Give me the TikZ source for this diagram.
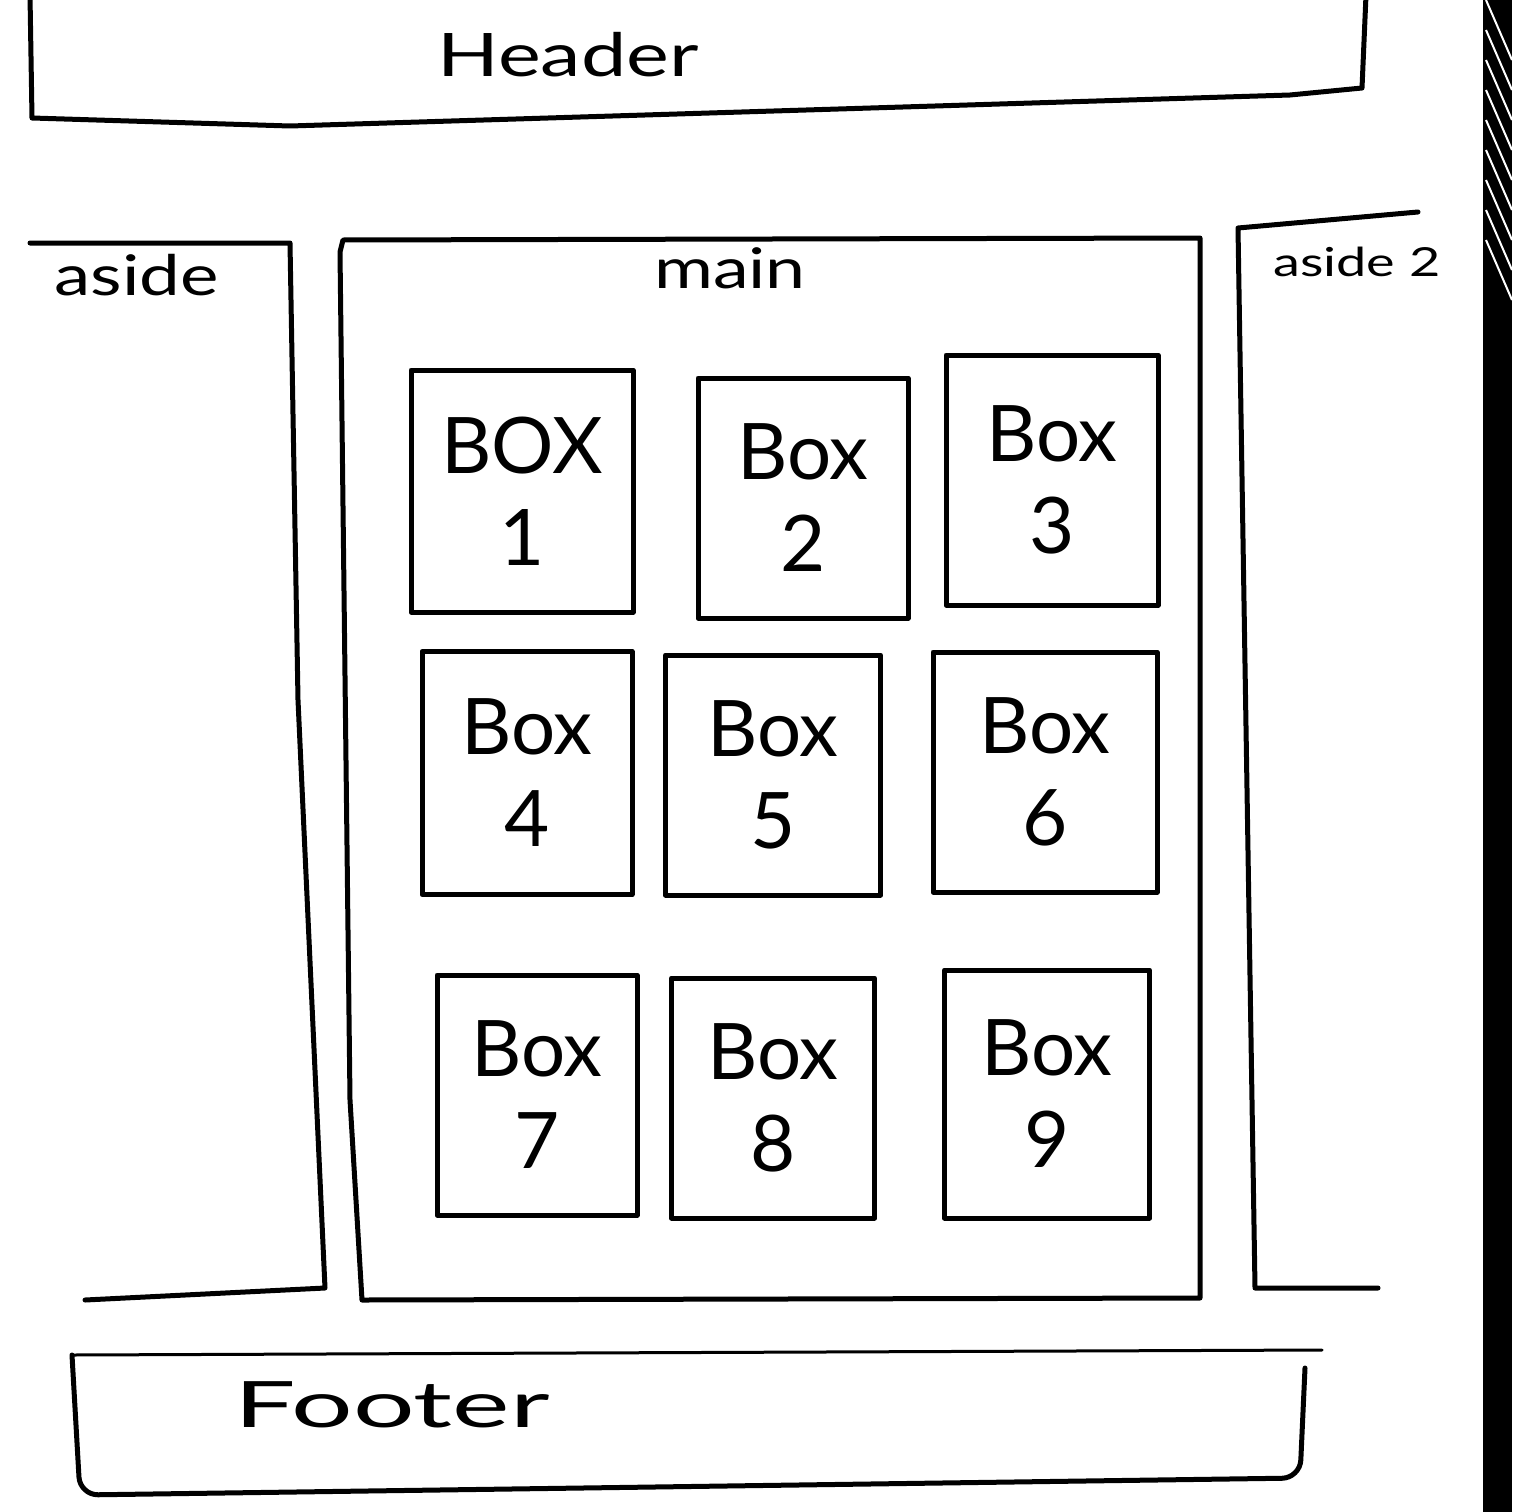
\documentclass[tikz,border=0pt]{standalone}
\usepackage{fontspec}
\setmainfont{Lato}
\begin{document}
\begin{tikzpicture}[x=1pt,y=-1pt,
  pen/.style={line width=5pt,line join=round,line cap=round,draw=black},
  boxn/.style={pen,inner sep=0pt,align=center,font=\fontsize{78}{92}\selectfont},
  lbl/.style={inner sep=0pt,font=\fontsize{56}{60}\selectfont}]
\useasboundingbox (0,0) rectangle (1512,1512);
\fill[white] (0,0) rectangle (1512,1512);
% photo edge on the right
\fill[black] (1483,0) rectangle (1512,1512);
\foreach \d in {0,30,60,90,120,150,180,210,240} {
  \draw[white,line width=2pt] (1486,\d) -- (1512,\d+60);
}
% header
\draw[pen] (30,-5) -- (32,118) -- (290,126) -- (1290,95) -- (1362,88) -- (1366,-5);
\node[lbl,font=\fontsize{60}{64}\selectfont,xscale=1.35,transform shape] (header) at (568,55) {Header};
% aside
\draw[pen] (30,243) -- (290,243) -- (298,700) -- (325,1288) -- (85,1300);
\node[lbl,xscale=1.3,transform shape] (aside) at (137,275) {aside};
% main
\draw[pen] (340,252) -- (343,240) -- (1200,238) -- (1200,1298) -- (362,1300) -- (350,1100) -- (340,252);
\node[lbl,xscale=1.28,transform shape] (main) at (730,268) {main};
% aside 2
\draw[pen] (1418,212) -- (1238,228) -- (1255,1288) -- (1378,1288);
\node[lbl,font=\fontsize{40}{44}\selectfont,xscale=1.35,transform shape] (aside2) at (1357,262) {aside 2};
% boxes
\node[boxn,minimum width=222,minimum height=242] (b1) at (522,491) {BOX\\1};
\node[boxn,minimum width=210,minimum height=240] (b2) at (803,498) {Box\\2};
\node[boxn,minimum width=212,minimum height=250] (b3) at (1052,480) {Box\\3};
\node[boxn,minimum width=210,minimum height=243] (b4) at (527,773) {Box\\4};
\node[boxn,minimum width=215,minimum height=240] (b5) at (773,775) {Box\\5};
\node[boxn,minimum width=224,minimum height=240] (b6) at (1045,772) {Box\\6};
\node[boxn,minimum width=200,minimum height=240] (b7) at (537,1095) {Box\\7};
\node[boxn,minimum width=203,minimum height=240] (b8) at (773,1098) {Box\\8};
\node[boxn,minimum width=205,minimum height=248] (b9) at (1047,1094) {Box\\9};
% footer
\draw[pen,rounded corners=18pt] (72,1355) -- (80,1495) -- (1300,1478) -- (1305,1368);
\draw[pen,line width=3pt] (72,1355) -- (1322,1350);
\node[lbl,font=\fontsize{64}{68}\selectfont,xscale=1.7,transform shape] (footer) at (392,1405) {Footer};
\end{tikzpicture}
\end{document}
